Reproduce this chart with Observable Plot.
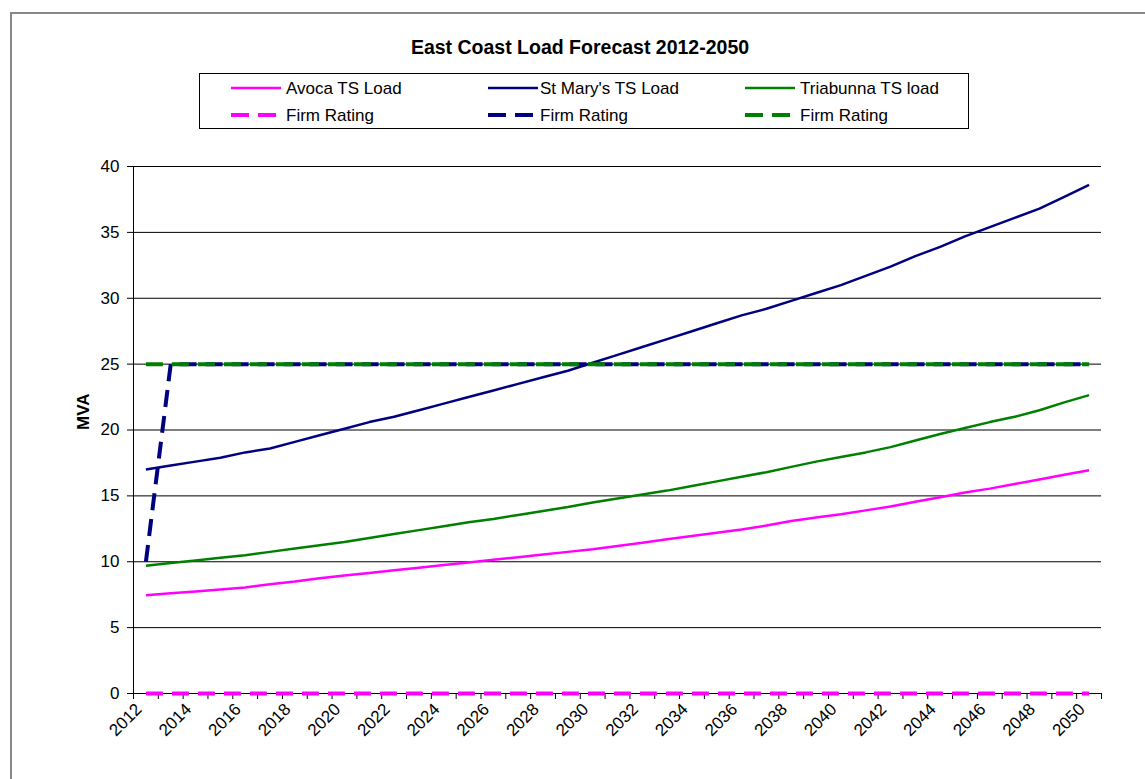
<!DOCTYPE html>
<html>
<head>
<meta charset="utf-8">
<script src="https://cdn.jsdelivr.net/npm/d3@7"></script>
<script src="https://cdn.jsdelivr.net/npm/@observablehq/plot@0.6"></script>
<style>
  html, body { margin: 0; padding: 0; background: #fff; }
  #page { position: relative; width: 1145px; height: 779px; overflow: hidden; background: #fff;
          font-family: "Liberation Sans", Arial, sans-serif; color: #000; }
  #frame { position: absolute; left: 10px; top: 12px; width: 1200px; height: 900px;
           border-left: 2px solid #888; border-top: 2px solid #888; box-sizing: border-box; }
  #title { position: absolute; left: 280px; width: 600px; top: 36px; line-height: 22px;
           text-align: center; font-weight: bold; font-size: 19.5px; }
  #legend { position: absolute; left: 199px; top: 73px; }
  #chart { position: absolute; left: 0; top: 140px; }
</style>
</head>
<body>
<div id="page">
  <div id="frame"></div>
  <div id="title">East Coast Load Forecast 2012-2050</div>
  <svg id="legend" width="771" height="57"></svg>
  <div id="chart"></div>
</div>
<script>
// ---- data ----
const years = [2012, 2013, 2014, 2015, 2016, 2017, 2018, 2019, 2020, 2021,
               2022, 2023, 2024, 2025, 2026, 2027, 2028, 2029, 2030, 2031,
               2032, 2033, 2034, 2035, 2036, 2037, 2038, 2039, 2040, 2041,
               2042, 2043, 2044, 2045, 2046, 2047, 2048, 2049, 2050];

const avocaLoad = [7.45, 7.6, 7.75, 7.9, 8.05, 8.3, 8.5, 8.75, 8.95, 9.15,
                   9.35, 9.55, 9.75, 9.95, 10.15, 10.35, 10.55, 10.75, 10.95, 11.2,
                   11.45, 11.7, 11.95, 12.2, 12.45, 12.75, 13.1, 13.35, 13.6, 13.9,
                   14.2, 14.55, 14.9, 15.25, 15.55, 15.9, 16.25, 16.6, 16.95];

const stMarysLoad = [17.0, 17.3, 17.6, 17.9, 18.3, 18.6, 19.1, 19.6, 20.1, 20.6,
                     21.0, 21.5, 22.0, 22.5, 23.0, 23.5, 24.0, 24.5, 25.1, 25.7,
                     26.3, 26.9, 27.5, 28.1, 28.7, 29.2, 29.8, 30.4, 31.0, 31.7,
                     32.4, 33.2, 33.9, 34.7, 35.4, 36.1, 36.8, 37.7, 38.6];

const triabunnaLoad = [9.7, 9.9, 10.1, 10.3, 10.5, 10.75, 11.0, 11.25, 11.5, 11.8,
                       12.1, 12.4, 12.7, 13.0, 13.25, 13.55, 13.85, 14.15, 14.5, 14.8,
                       15.1, 15.4, 15.75, 16.1, 16.45, 16.8, 17.2, 17.6, 17.95, 18.3,
                       18.7, 19.2, 19.7, 20.15, 20.6, 21.0, 21.5, 22.1, 22.65];

const avocaFirm = [0, 0, 0, 0, 0, 0, 0, 0, 0, 0,
                   0, 0, 0, 0, 0, 0, 0, 0, 0, 0,
                   0, 0, 0, 0, 0, 0, 0, 0, 0, 0,
                   0, 0, 0, 0, 0, 0, 0, 0, 0];

const stMarysFirm = [10, 25, 25, 25, 25, 25, 25, 25, 25, 25,
                     25, 25, 25, 25, 25, 25, 25, 25, 25, 25,
                     25, 25, 25, 25, 25, 25, 25, 25, 25, 25,
                     25, 25, 25, 25, 25, 25, 25, 25, 25];

const triabunnaFirm = [25, 25, 25, 25, 25, 25, 25, 25, 25, 25,
                       25, 25, 25, 25, 25, 25, 25, 25, 25, 25,
                       25, 25, 25, 25, 25, 25, 25, 25, 25, 25,
                       25, 25, 25, 25, 25, 25, 25, 25, 25];

const loadNames = ["Avoca TS Load", "St Mary's TS Load", "Triabunna TS load"];
const firmName = "Firm Rating";
const seriesColors = ["#FF00FF", "#000080", "#008000"];
const yTicks = [0, 5, 10, 15, 20, 25, 30, 35, 40];
const xLabelYears = [2012, 2014, 2016, 2018, 2020, 2022, 2024, 2026, 2028, 2030,
                     2032, 2034, 2036, 2038, 2040, 2042, 2044, 2046, 2048, 2050];
const xDomain = [2011.5, 2050.5];
const yDomain = [0, 40];

// ---- build tables ----
const loadSeries = [avocaLoad, stMarysLoad, triabunnaLoad];
const firmSeries = [avocaFirm, stMarysFirm, triabunnaFirm];
const toRows = (vals, name) => years.map((yr, i) => ({year: yr, value: vals[i], series: name}));

const boundaryTicks = d3.range(xDomain[0], xDomain[1] + 0.5, 1);

const lineMarks = [];
loadSeries.forEach((vals, i) => {
  lineMarks.push(Plot.lineY(toRows(vals, loadNames[i]), {
    x: "year", y: "value", stroke: seriesColors[i], strokeWidth: 2.5,
    strokeLinejoin: "round", strokeLinecap: "butt"
  }));
});
firmSeries.forEach((vals, i) => {
  lineMarks.push(Plot.lineY(toRows(vals, firmName), {
    x: "year", y: "value", stroke: seriesColors[i], strokeWidth: 4,
    strokeDasharray: "17,9", strokeLinecap: "butt", strokeLinejoin: "miter"
  }));
});

const chart = Plot.plot({
  width: 1145,
  height: 639,
  marginTop: 26,
  marginRight: 44,
  marginBottom: 86,
  marginLeft: 133,
  style: {background: "transparent", fontFamily: "'Liberation Sans', Arial, sans-serif",
          fontSize: "17px", color: "black", overflow: "visible"},
  x: {type: "linear", domain: xDomain},
  y: {type: "linear", domain: yDomain},
  marks: [
    Plot.gridY(yTicks, {stroke: "black", strokeOpacity: 1, strokeWidth: 1}),
    Plot.ruleX([xDomain[0]], {stroke: "black", strokeWidth: 1}),
    Plot.axisY(yTicks, {tickSize: 6, tickPadding: 8, fontSize: 17, label: null,
                        tickFormat: d => String(d)}),
    Plot.axisX(boundaryTicks, {tickSize: 6, tickFormat: () => "", label: null}),
    Plot.axisX(xLabelYears, {tickSize: 0, tickPadding: 13, tickRotate: -45, dx: -7,
                             fontSize: 17, tickFormat: d => String(d), label: null}),
    Plot.text(["MVA"], {frameAnchor: "left", dx: -50, rotate: -90,
                        fontWeight: "bold", fontSize: 17, text: d => d}),
    ...lineMarks
  ]
});
document.getElementById("chart").appendChild(chart);

// ---- legend ----
const legend = d3.select("#legend");
legend.append("rect").attr("x", 0.5).attr("y", 0.5).attr("width", 769).attr("height", 55)
  .attr("fill", "white").attr("stroke", "black").attr("stroke-width", 1);
const colLine = [32, 289, 546];
const colText = [87, 341, 601];
const rowY = [15, 42];
loadNames.forEach((name, i) => {
  legend.append("line").attr("x1", colLine[i]).attr("x2", colLine[i] + 50)
    .attr("y1", rowY[0]).attr("y2", rowY[0])
    .attr("stroke", seriesColors[i]).attr("stroke-width", 2.5);
  legend.append("text").attr("x", colText[i]).attr("y", rowY[0]).attr("dy", "0.36em")
    .attr("font-size", 17).attr("font-family", "'Liberation Sans', Arial, sans-serif")
    .text(name);
  legend.append("line").attr("x1", colLine[i]).attr("x2", colLine[i] + 50)
    .attr("y1", rowY[1]).attr("y2", rowY[1])
    .attr("stroke", seriesColors[i]).attr("stroke-width", 4)
    .attr("stroke-dasharray", "18,9");
  legend.append("text").attr("x", colText[i]).attr("y", rowY[1]).attr("dy", "0.36em")
    .attr("font-size", 17).attr("font-family", "'Liberation Sans', Arial, sans-serif")
    .text(firmName);
});
</script>
</body>
</html>
